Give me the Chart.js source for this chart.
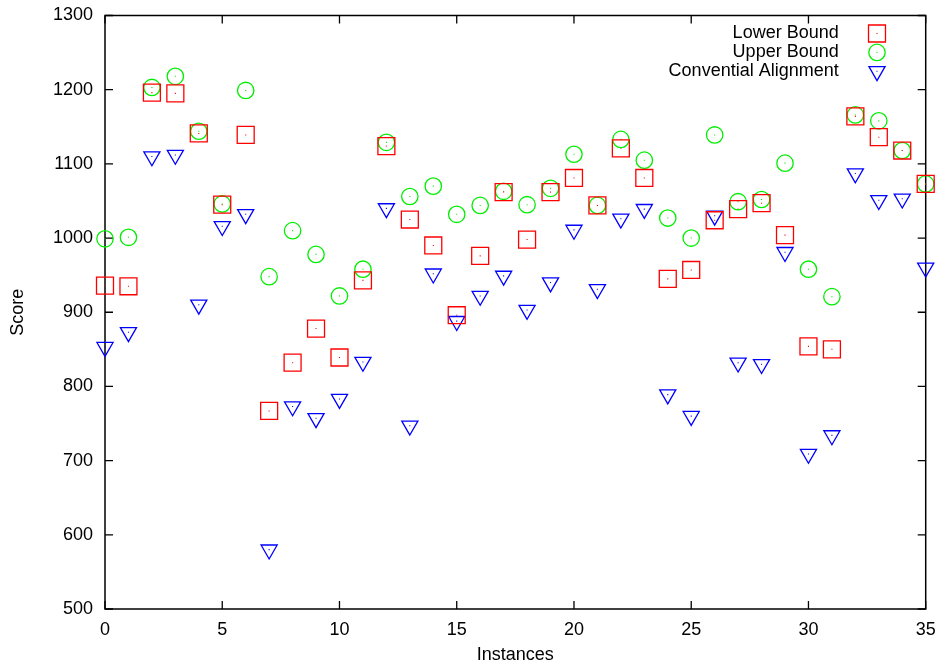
<!DOCTYPE html>
<html>
<head>
<meta charset="utf-8">
<script src="https://cdn.jsdelivr.net/npm/chart.js@4/dist/chart.umd.min.js"></script>
<style>
  html, body { margin: 0; background: #fff; }
  #wrap { width: 939px; height: 666px; }
</style>
</head>
<body>
<div id="wrap"><canvas id="c"></canvas></div>
<script>
// data
const instances = [0,1,2,3,4,5,6,7,8,9,10,11,12,13,14,15,16,17,18,19,20,21,22,23,24,25,26,27,28,29,30,31,32,33,34,35]
const lowerBound = [936,935,1196,1195,1141,1045,1139,767,832,878,839,943,1124,1025,990,896,976,1062,998,1062,1081,1044,1121,1081,945,957,1024,1039,1047,1004,854,850,1164,1136,1118,1073]
const upperBound = [999,1001,1203,1218,1144,1046,1199,948,1010,978,922,958,1129,1056,1070,1032,1044,1063,1045,1067,1113,1044,1133,1105,1027,1000,1139,1049,1052,1101,958,921,1166,1158,1118,1073]
const conventional = [853,873,1110,1112,910,1016,1032,580,773,757,783,833,1040,747,952,888,922,949,903,940,1011,931,1026,1039,789,760,1030,832,830,981,709,734,1087,1051,1053,960]
const seriesNames = ['Lower Bound', 'Upper Bound', 'Convential Alignment']

const FONT = 'Liberation Sans, Arial, sans-serif'
const FS = 18
const pts = ys => instances.map((x, i) => ({ x, y: ys[i] }))

const marker = (label, ys, color, style, r, rot) => ({
  label, data: pts(ys), showLine: false, clip: false,
  pointStyle: style, pointRadius: r, pointRotation: rot || 0,
  pointBorderColor: color, borderColor: color, pointBorderWidth: 1.3, borderWidth: 1.3,
  pointBackgroundColor: 'rgba(0,0,0,0)', backgroundColor: 'rgba(0,0,0,0)'
})
// tiny centre dot gnuplot puts in each point
const dot = (ys, color) => ({
  label: '', data: pts(ys), showLine: false, clip: false,
  pointStyle: 'rect', pointRadius: 0.75, pointBorderWidth: 0,
  pointBackgroundColor: color, backgroundColor: color
})

// border box + inward ticks on all four sides
const frame = {
  id: 'frame',
  beforeDatasetsDraw(chart) {
    const { ctx, chartArea: a, scales: { x, y } } = chart
    ctx.save()
    ctx.strokeStyle = '#000'
    ctx.lineWidth = 1.3
    ctx.beginPath()
    x.ticks.forEach(t => {
      const px = x.getPixelForValue(t.value)
      ctx.moveTo(px, a.bottom); ctx.lineTo(px, a.bottom - 8)
      ctx.moveTo(px, a.top); ctx.lineTo(px, a.top + 8)
    })
    y.ticks.forEach(t => {
      const py = y.getPixelForValue(t.value)
      ctx.moveTo(a.left, py); ctx.lineTo(a.left + 8, py)
      ctx.moveTo(a.right, py); ctx.lineTo(a.right - 8, py)
    })
    ctx.stroke()
    ctx.lineWidth = 1.5
    ctx.strokeRect(a.left, a.top, a.right - a.left, a.bottom - a.top)
    ctx.restore()
  }
}

// gnuplot style key: text right aligned, symbol to its right
const key = {
  id: 'key',
  afterDatasetsDraw(chart) {
    const { ctx, chartArea: a } = chart
    ctx.save()
    ctx.font = FS + 'px ' + FONT
    ctx.textAlign = 'right'
    ctx.textBaseline = 'middle'
    seriesNames.forEach((name, i) => {
      const ds = chart.data.datasets[i]
      const yy = a.top + 18 + i * 18.9
      ctx.fillStyle = '#000'
      ctx.fillText(name, a.right - 87, yy)
      ctx.strokeStyle = ds.pointBorderColor
      ctx.fillStyle = 'rgba(0,0,0,0)'
      ctx.lineWidth = ds.pointBorderWidth
      Chart.helpers.drawPoint(ctx, {
        pointStyle: ds.pointStyle, radius: ds.pointRadius,
        rotation: ds.pointRotation, borderWidth: ds.pointBorderWidth
      }, a.right - 48.7, yy)
      ctx.fillStyle = ds.pointBorderColor
      ctx.fillRect(a.right - 49.2, yy - 0.5, 1, 1)
    })
    ctx.restore()
  }
}

new Chart(document.getElementById('c'), {
  type: 'scatter',
  data: {
    datasets: [
      marker(seriesNames[0], lowerBound, '#ff0000', 'rect', 12),
      marker(seriesNames[1], upperBound, '#00ee00', 'circle', 8.2),
      marker(seriesNames[2], conventional, '#0000ff', 'triangle', 9.3, 180),
      dot(lowerBound, '#ff0000'),
      dot(upperBound, '#00ee00'),
      dot(conventional, '#0000ff')
    ]
  },
  options: {
    responsive: true,
    maintainAspectRatio: false,
    animation: false,
    devicePixelRatio: 1,
    events: [],
    layout: { padding: { left: 0, top: 15.5, right: 12.3, bottom: 0 } },
    plugins: { legend: { display: false }, tooltip: { enabled: false } },
    scales: {
      x: {
        type: 'linear', min: 0, max: 35,
        afterFit: s => { s.height = 57; s.paddingLeft = 0; s.paddingRight = 0 },
        grid: { display: false, drawTicks: false },
        border: { display: false },
        ticks: { stepSize: 5, padding: 10, color: '#000', font: { family: FONT, size: FS } },
        title: { display: true, text: 'Instances', color: '#000', padding: { top: 0, bottom: 0 }, font: { family: FONT, size: FS } }
      },
      y: {
        type: 'linear', min: 500, max: 1300,
        afterFit: s => { s.width = 105; s.paddingTop = 0; s.paddingBottom = 0 },
        grid: { display: false, drawTicks: false },
        border: { display: false },
        ticks: { stepSize: 100, padding: 12, color: '#000', font: { family: FONT, size: FS }, callback: v => String(v) },
        title: { display: true, text: 'Score', color: '#000', padding: { top: 7, bottom: 0 }, font: { family: FONT, size: FS } }
      }
    }
  },
  plugins: [frame, key]
})
</script>
</body>
</html>
